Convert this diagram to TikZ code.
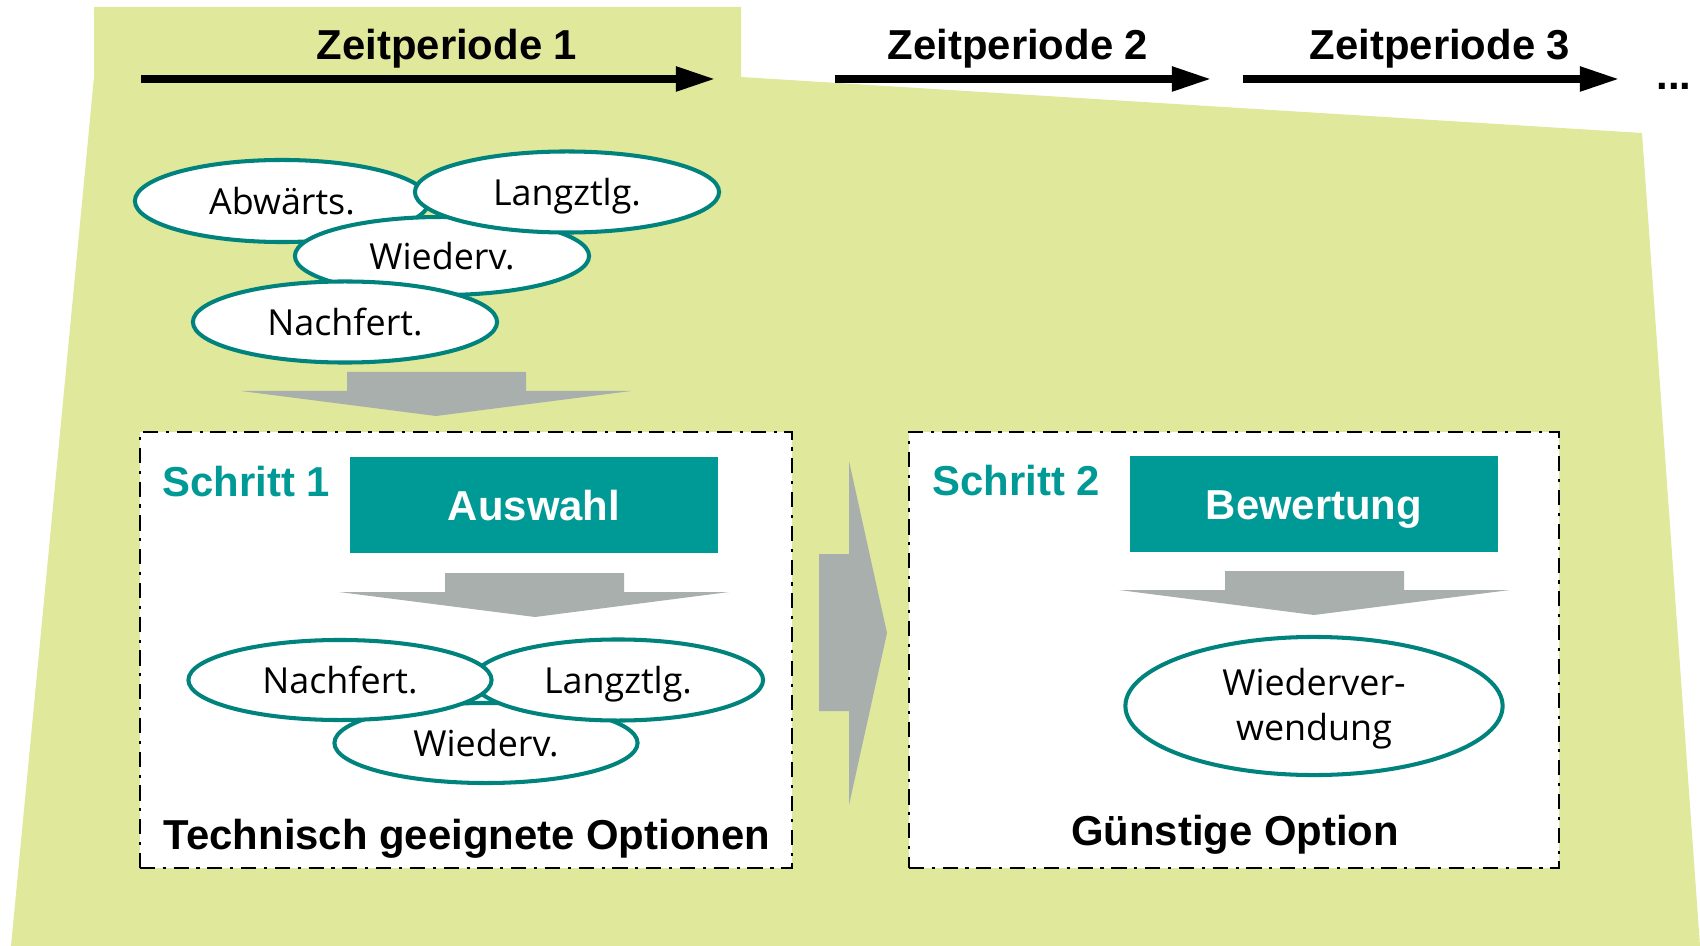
\documentclass[tikz,border=0pt]{standalone}
\usepackage{fontspec}
\setmainfont{Liberation Sans}
\newfontfamily\optfont{Open Sans}
\usetikzlibrary{shapes.geometric,arrows.meta}
\definecolor{periodgreen}{RGB}{224,232,156}
\definecolor{boxteal}{RGB}{0,154,150}
\definecolor{ringteal}{RGB}{0,130,125}
\definecolor{flowgray}{RGB}{169,175,173}
\tikzset{
        option/.style={ellipse,draw=ringteal,line width=1.15pt,fill=white,inner sep=0pt,align=center,text height=0.26cm,text depth=0pt,font=\optfont\fontsize{10.2pt}{12.8pt}\selectfont},
        task/.style={fill=boxteal,text=white,inner sep=0pt,minimum width=3.68cm,minimum height=0.96cm,text height=0.3cm,text depth=0pt,font=\fontsize{11.9pt}{14pt}\selectfont\bfseries},
        heading/.style={inner sep=0pt,font=\fontsize{11.9pt}{14pt}\selectfont\bfseries},
        stepframe/.style={draw=black,fill=white,line width=0.6pt,dash pattern=on 4.3pt off 2.2pt on 0.9pt off 2.2pt},
        flow/.style={fill=flowgray},
        period/.style={line width=2.4pt,-{Triangle[length=11.4pt,width=6.5pt]}}
}
\begin{document}
\begin{tikzpicture}[x=0.01cm,y=-0.01cm]
        \useasboundingbox (0,0) rectangle (1700,946);
        \fill[periodgreen] (94,7) -- (741,7) -- (741,77) -- (1642,133) -- (1700,946) -- (11,946) -- (94,77) -- cycle;
        \coordinate (t1a) at (141,79);
        \coordinate (t1b) at (716,79);
        \coordinate (t2a) at (835,79);
        \coordinate (t2b) at (1212,79);
        \coordinate (t3a) at (1243,79);
        \coordinate (t3b) at (1620,79);
        \draw[period] (t1a) -- (t1b);
        \draw[period] (t2a) -- (t2b);
        \draw[period] (t3a) -- (t3b);
        \node[heading,anchor=base] (zp1) at (447,60) {Zeitperiode 1};
        \node[heading,anchor=base] (zp2) at (1018,60) {Zeitperiode 2};
        \node[heading,anchor=base] (zp3) at (1440,60) {Zeitperiode 3};
        \node[heading,anchor=base] (more) at (1674,90) {...};
        \node[option,minimum width=2.94cm,minimum height=0.82cm] (abw) at (282,201) {Abwärts.};
        \node[option,minimum width=2.94cm,minimum height=0.78cm] (wied) at (442,256) {Wiederv.};
        \node[option,minimum width=3.04cm,minimum height=0.81cm] (lang) at (567,192) {Langztlg.};
        \node[option,minimum width=3.04cm,minimum height=0.81cm] (nach) at (345,322) {Nachfert.};
        \fill[flow] (347,372) -- (526,372) -- (526,391) -- (631,391) -- (436,416) -- (241,391) -- (347,391) -- cycle;
        \node[stepframe,minimum width=6.52cm,minimum height=4.35cm] (frameA) at (466,650) {};
        \node[stepframe,minimum width=6.50cm,minimum height=4.35cm] (frameB) at (1234,650) {};
        \fill[flow] (819,554) -- (849,554) -- (849,461) -- (887,633) -- (849,805) -- (849,711) -- (819,711) -- cycle;
        \node[heading,text=boxteal,anchor=base west] (s1) at (162,497) {Schritt 1};
        \node[task] (auswahl) at (534,505) {Auswahl};
        \fill[flow] (445,573) -- (624,573) -- (624,592) -- (729,592) -- (535,617) -- (339,592) -- (445,592) -- cycle;
        \node[option,minimum width=3.03cm,minimum height=0.8cm] (wied2) at (486,743) {Wiederv.};
        \node[option,minimum width=2.90cm,minimum height=0.81cm] (lang2) at (618,680) {Langztlg.};
        \node[option,minimum width=3.03cm,minimum height=0.8cm] (nach2) at (340,680) {Nachfert.};
        \node[heading,anchor=base] (tech) at (467,849) {Technisch geeignete Optionen};
        \node[heading,text=boxteal,anchor=base west] (s2) at (932,495) {Schritt 2};
        \node[task] (bewertung) at (1314,504) {Bewertung};
        \fill[flow] (1225,571) -- (1404,571) -- (1404,590) -- (1510,590) -- (1314,615) -- (1119,590) -- (1225,590) -- cycle;
        \node[option,minimum width=3.77cm,minimum height=1.38cm,text height=0.68cm,text depth=0pt] (wiedB) at (1314,706) {Wiederver-\\wendung};
        \node[heading,anchor=base] (guenstig) at (1235,845) {Günstige Option};
\end{tikzpicture}
\end{document}
